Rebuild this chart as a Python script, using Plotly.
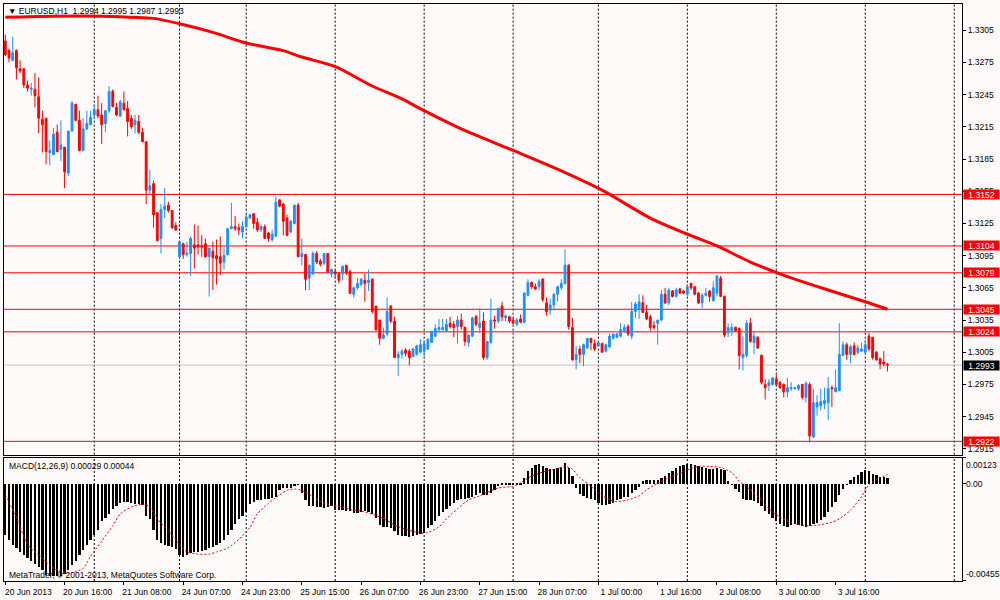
import plotly.graph_objects as go

# EURUSD H1, 20 Jun - 4 Jul 2013 (MetaTrader 4 screenshot), one value per bar
opens = [
    1.3295, 1.3286, 1.3277, 1.3286, 1.3269, 1.3269, 1.3254, 1.3250, 1.3250, 1.3243,
    1.3222, 1.3223, 1.3191, 1.3189, 1.3210, 1.3194, 1.3196, 1.3172, 1.3211, 1.3236,
    1.3221, 1.3193, 1.3213, 1.3217, 1.3226, 1.3231, 1.3226, 1.3218, 1.3230, 1.3248,
    1.3233, 1.3225, 1.3237, 1.3232, 1.3223, 1.3217, 1.3220, 1.3210, 1.3201, 1.3156,
    1.3162, 1.3135, 1.3111, 1.3138, 1.3142, 1.3137, 1.3123, 1.3094, 1.3106, 1.3096,
    1.3097, 1.3105, 1.3105, 1.3104, 1.3106, 1.3094, 1.3099, 1.3095, 1.3094, 1.3089,
    1.3096, 1.3120, 1.3122, 1.3121, 1.3117, 1.3122, 1.3130, 1.3134, 1.3126, 1.3119,
    1.3122, 1.3116, 1.3110, 1.3113, 1.3147, 1.3143, 1.3130, 1.3117, 1.3125, 1.3142,
    1.3094, 1.3096, 1.3074, 1.3078, 1.3097, 1.3090, 1.3088, 1.3097, 1.3078, 1.3080,
    1.3078, 1.3078, 1.3086, 1.3080, 1.3059, 1.3065, 1.3068, 1.3072, 1.3070, 1.3073,
    1.3048, 1.3035, 1.3018, 1.3022, 1.3048, 1.3034, 1.3000, 1.3003, 1.3007, 1.3006,
    1.3001, 1.3003, 1.3005, 1.3006, 1.3008, 1.3014, 1.3020, 1.3026, 1.3026, 1.3025,
    1.3032, 1.3031, 1.3029, 1.3035, 1.3028, 1.3014, 1.3020, 1.3038, 1.3028, 1.3034,
    1.3000, 1.3014, 1.3035, 1.3034, 1.3048, 1.3037, 1.3038, 1.3035, 1.3031, 1.3036,
    1.3033, 1.3058, 1.3070, 1.3066, 1.3066, 1.3073, 1.3051, 1.3044, 1.3049, 1.3059,
    1.3065, 1.3069, 1.3086, 1.3028, 1.2998, 1.3008, 1.3003, 1.3009, 1.3018, 1.3013,
    1.3011, 1.3013, 1.3006, 1.3010, 1.3018, 1.3019, 1.3020, 1.3025, 1.3029, 1.3020,
    1.3043, 1.3045, 1.3051, 1.3042, 1.3038, 1.3030, 1.3032, 1.3035, 1.3059, 1.3051,
    1.3062, 1.3057, 1.3064, 1.3062, 1.3059, 1.3069, 1.3066, 1.3060, 1.3051, 1.3058,
    1.3062, 1.3053, 1.3060, 1.3074, 1.3057, 1.3023, 1.3025, 1.3028, 1.3027, 1.3000,
    1.3002, 1.3032, 1.3014, 1.3019, 1.3002, 1.2975, 1.2974, 1.2975, 1.2980, 1.2977,
    1.2975, 1.2968, 1.2971, 1.2971, 1.2971, 1.2975, 1.2963, 1.2975, 1.2926, 1.2954,
    1.2955, 1.2957, 1.2958, 1.2972, 1.2968, 1.2969, 1.3002, 1.3012, 1.3003, 1.3011,
    1.3005, 1.3006, 1.3005, 1.3020, 1.3019, 1.3005, 1.2999, 1.2996, 1.2994,
]
highs = [
    1.3301, 1.3288, 1.3299, 1.3287, 1.3277, 1.3270, 1.3258, 1.3256, 1.3265, 1.3261,
    1.3230, 1.3223, 1.3202, 1.3214, 1.3217, 1.3221, 1.3196, 1.3211, 1.3239, 1.3236,
    1.3230, 1.3223, 1.3230, 1.3230, 1.3236, 1.3244, 1.3237, 1.3230, 1.3253, 1.3250,
    1.3237, 1.3240, 1.3248, 1.3239, 1.3226, 1.3226, 1.3226, 1.3214, 1.3201, 1.3175,
    1.3165, 1.3135, 1.3143, 1.3158, 1.3145, 1.3137, 1.3126, 1.3108, 1.3107, 1.3108,
    1.3113, 1.3124, 1.3123, 1.3114, 1.3111, 1.3102, 1.3108, 1.3110, 1.3113, 1.3103,
    1.3121, 1.3144, 1.3132, 1.3125, 1.3127, 1.3133, 1.3134, 1.3134, 1.3130, 1.3124,
    1.3124, 1.3117, 1.3119, 1.3150, 1.3147, 1.3144, 1.3133, 1.3128, 1.3142, 1.3144,
    1.3111, 1.3096, 1.3087, 1.3099, 1.3099, 1.3092, 1.3097, 1.3097, 1.3083, 1.3082,
    1.3080, 1.3086, 1.3086, 1.3082, 1.3066, 1.3074, 1.3074, 1.3078, 1.3082, 1.3074,
    1.3048, 1.3035, 1.3028, 1.3056, 1.3049, 1.3038, 1.3006, 1.3008, 1.3009, 1.3008,
    1.3009, 1.3012, 1.3017, 1.3015, 1.3018, 1.3025, 1.3031, 1.3036, 1.3036, 1.3036,
    1.3038, 1.3034, 1.3039, 1.3041, 1.3029, 1.3021, 1.3038, 1.3040, 1.3046, 1.3042,
    1.3015, 1.3055, 1.3039, 1.3046, 1.3052, 1.3040, 1.3039, 1.3037, 1.3037, 1.3040,
    1.3061, 1.3073, 1.3071, 1.3069, 1.3073, 1.3074, 1.3056, 1.3055, 1.3060, 1.3067,
    1.3073, 1.3101, 1.3087, 1.3037, 1.3011, 1.3011, 1.3013, 1.3018, 1.3018, 1.3017,
    1.3015, 1.3014, 1.3013, 1.3022, 1.3022, 1.3023, 1.3032, 1.3031, 1.3031, 1.3052,
    1.3052, 1.3059, 1.3058, 1.3049, 1.3040, 1.3034, 1.3035, 1.3063, 1.3065, 1.3065,
    1.3063, 1.3065, 1.3065, 1.3063, 1.3068, 1.3070, 1.3066, 1.3061, 1.3060, 1.3065,
    1.3063, 1.3071, 1.3077, 1.3076, 1.3058, 1.3032, 1.3032, 1.3029, 1.3028, 1.3020,
    1.3035, 1.3037, 1.3025, 1.3020, 1.3003, 1.2980, 1.2980, 1.2982, 1.2984, 1.2978,
    1.2976, 1.2981, 1.2977, 1.2973, 1.2975, 1.2975, 1.2978, 1.2977, 1.2971, 1.2965,
    1.2971, 1.2972, 1.2982, 1.2974, 1.2989, 1.3032, 1.3015, 1.3014, 1.3012, 1.3014,
    1.3012, 1.3014, 1.3016, 1.3023, 1.3019, 1.3006, 1.3000, 1.3006, 1.2995,
]
lows = [
    1.3281, 1.3275, 1.3276, 1.3259, 1.3265, 1.3251, 1.3248, 1.3244, 1.3233, 1.3209,
    1.3191, 1.3180, 1.3179, 1.3189, 1.3191, 1.3183, 1.3158, 1.3169, 1.3211, 1.3220,
    1.3192, 1.3192, 1.3212, 1.3217, 1.3222, 1.3223, 1.3199, 1.3210, 1.3228, 1.3233,
    1.3225, 1.3224, 1.3230, 1.3206, 1.3213, 1.3209, 1.3208, 1.3201, 1.3143, 1.3152,
    1.3121, 1.3108, 1.3097, 1.3130, 1.3135, 1.3120, 1.3118, 1.3093, 1.3092, 1.3094,
    1.3076, 1.3083, 1.3096, 1.3094, 1.3093, 1.3057, 1.3063, 1.3068, 1.3077, 1.3082,
    1.3095, 1.3120, 1.3118, 1.3114, 1.3111, 1.3121, 1.3129, 1.3120, 1.3117, 1.3117,
    1.3111, 1.3108, 1.3108, 1.3113, 1.3140, 1.3114, 1.3113, 1.3116, 1.3124, 1.3094,
    1.3086, 1.3063, 1.3063, 1.3077, 1.3087, 1.3085, 1.3086, 1.3079, 1.3075, 1.3074,
    1.3069, 1.3072, 1.3077, 1.3059, 1.3056, 1.3063, 1.3066, 1.3052, 1.3062, 1.3041,
    1.3025, 1.3012, 1.3017, 1.3020, 1.3032, 1.3000, 1.2983, 1.2999, 1.3001, 1.2993,
    1.3001, 1.3002, 1.3004, 1.3001, 1.3007, 1.3014, 1.3019, 1.3023, 1.3025, 1.3024,
    1.3027, 1.3019, 1.3013, 1.3026, 1.3011, 1.3010, 1.3019, 1.3029, 1.3023, 1.2998,
    1.2998, 1.3013, 1.3027, 1.3032, 1.3034, 1.3034, 1.3032, 1.3031, 1.3029, 1.3032,
    1.3032, 1.3057, 1.3064, 1.3063, 1.3063, 1.3052, 1.3039, 1.3040, 1.3044, 1.3052,
    1.3063, 1.3068, 1.3026, 1.2997, 1.2989, 1.2995, 1.2992, 1.3008, 1.3007, 1.3006,
    1.3010, 1.3005, 1.3005, 1.3009, 1.3017, 1.3018, 1.3019, 1.3023, 1.3020, 1.3017,
    1.3037, 1.3036, 1.3042, 1.3035, 1.3025, 1.3026, 1.3012, 1.3034, 1.3050, 1.3049,
    1.3056, 1.3056, 1.3060, 1.3059, 1.3057, 1.3063, 1.3058, 1.3050, 1.3046, 1.3057,
    1.3052, 1.3052, 1.3057, 1.3057, 1.3019, 1.3019, 1.3020, 1.3024, 1.2989, 1.2988,
    1.3000, 1.3014, 1.3003, 1.3008, 1.2975, 1.2961, 1.2969, 1.2974, 1.2974, 1.2971,
    1.2963, 1.2963, 1.2969, 1.2970, 1.2969, 1.2961, 1.2958, 1.2921, 1.2925, 1.2946,
    1.2951, 1.2952, 1.2942, 1.2954, 1.2968, 1.2969, 1.3002, 1.2998, 1.2995, 1.3002,
    1.3003, 1.3005, 1.3003, 1.3006, 1.2998, 1.2997, 1.2989, 1.2992, 1.2987,
]
closes = [
    1.3282, 1.3279, 1.3284, 1.3270, 1.3267, 1.3254, 1.3251, 1.3251, 1.3244, 1.3223,
    1.3217, 1.3192, 1.3193, 1.3208, 1.3192, 1.3198, 1.3173, 1.3211, 1.3237, 1.3221,
    1.3193, 1.3213, 1.3218, 1.3224, 1.3231, 1.3225, 1.3217, 1.3230, 1.3248, 1.3234,
    1.3226, 1.3238, 1.3231, 1.3220, 1.3215, 1.3221, 1.3210, 1.3201, 1.3156, 1.3160,
    1.3133, 1.3109, 1.3138, 1.3141, 1.3137, 1.3121, 1.3119, 1.3108, 1.3096, 1.3097,
    1.3111, 1.3102, 1.3103, 1.3103, 1.3094, 1.3102, 1.3093, 1.3092, 1.3088, 1.3095,
    1.3120, 1.3122, 1.3120, 1.3119, 1.3122, 1.3131, 1.3133, 1.3125, 1.3119, 1.3122,
    1.3111, 1.3111, 1.3115, 1.3145, 1.3141, 1.3127, 1.3114, 1.3127, 1.3142, 1.3094,
    1.3097, 1.3073, 1.3086, 1.3097, 1.3089, 1.3087, 1.3097, 1.3080, 1.3082, 1.3078,
    1.3072, 1.3085, 1.3079, 1.3060, 1.3065, 1.3069, 1.3073, 1.3069, 1.3072, 1.3043,
    1.3026, 1.3018, 1.3021, 1.3043, 1.3034, 1.3000, 1.3003, 1.3006, 1.3004, 1.3000,
    1.3008, 1.3011, 1.3012, 1.3013, 1.3017, 1.3024, 1.3027, 1.3028, 1.3028, 1.3031,
    1.3029, 1.3028, 1.3035, 1.3029, 1.3015, 1.3021, 1.3037, 1.3031, 1.3032, 1.3000,
    1.3015, 1.3035, 1.3034, 1.3046, 1.3038, 1.3039, 1.3034, 1.3032, 1.3035, 1.3033,
    1.3060, 1.3070, 1.3066, 1.3064, 1.3071, 1.3054, 1.3043, 1.3049, 1.3059, 1.3066,
    1.3069, 1.3086, 1.3029, 1.2998, 1.3003, 1.3003, 1.3012, 1.3018, 1.3014, 1.3008,
    1.3014, 1.3005, 1.3012, 1.3020, 1.3022, 1.3022, 1.3026, 1.3028, 1.3022, 1.3043,
    1.3050, 1.3052, 1.3042, 1.3036, 1.3028, 1.3028, 1.3035, 1.3059, 1.3051, 1.3063,
    1.3057, 1.3063, 1.3060, 1.3060, 1.3066, 1.3065, 1.3059, 1.3051, 1.3058, 1.3060,
    1.3057, 1.3065, 1.3076, 1.3057, 1.3021, 1.3028, 1.3028, 1.3025, 1.3002, 1.3003,
    1.3032, 1.3015, 1.3020, 1.3009, 1.2977, 1.2972, 1.2977, 1.2981, 1.2975, 1.2972,
    1.2968, 1.2972, 1.2972, 1.2972, 1.2974, 1.2963, 1.2976, 1.2927, 1.2958, 1.2958,
    1.2959, 1.2960, 1.2971, 1.2971, 1.2972, 1.3003, 1.3012, 1.3003, 1.3010, 1.3003,
    1.3009, 1.3008, 1.3012, 1.3008, 1.3000, 1.2998, 1.2994, 1.2994, 1.2993,
]

# moving average (thick red line), read at a few bars
ma_bars = [0, 13, 26, 34, 40, 47, 56, 65, 75, 80, 89, 99, 107, 113, 123, 137,
           150, 161, 174, 184, 192, 201, 209, 214, 222, 232, 238]
ma_values = [1.3317, 1.3318, 1.3318, 1.3317, 1.3316, 1.3311, 1.3303, 1.3293, 1.3286,
             1.3280, 1.3271, 1.3253, 1.3241, 1.3230, 1.3213, 1.3193, 1.3174, 1.3156,
             1.3130, 1.3115, 1.3104, 1.3089, 1.3078, 1.3072, 1.3063, 1.3052, 1.3045]

# horizontal lines and the bid line
levels = [1.3152, 1.3104, 1.3079, 1.3045, 1.3024, 1.2922]
bid = 1.2993
price_ticks = [1.2915, 1.2945, 1.2975, 1.3005, 1.3035, 1.3065, 1.3095, 1.3125,
               1.3155, 1.3185, 1.3215, 1.3245, 1.3275, 1.3305]

# MACD(12,26,9) main line (histogram) per bar and signal line (sampled)
macd_hist = [
    -0.00236, -0.00260, -0.00284, -0.00300, -0.00316, -0.00332, -0.00345, -0.00361, -0.00372, -0.00388,
    -0.00404, -0.00425, -0.00432, -0.00432, -0.00432, -0.00432, -0.00421, -0.00404, -0.00380, -0.00361,
    -0.00332, -0.00308, -0.00284, -0.00260, -0.00236, -0.00212, -0.00172, -0.00156, -0.00140, -0.00116,
    -0.00100, -0.00088, -0.00083, -0.00083, -0.00088, -0.00091, -0.00091, -0.00095, -0.00148, -0.00164,
    -0.00212, -0.00260, -0.00276, -0.00284, -0.00287, -0.00292, -0.00303, -0.00332, -0.00340, -0.00332,
    -0.00324, -0.00319, -0.00316, -0.00313, -0.00308, -0.00300, -0.00292, -0.00284, -0.00276, -0.00260,
    -0.00236, -0.00212, -0.00188, -0.00164, -0.00148, -0.00132, -0.00091, -0.00083, -0.00075, -0.00072,
    -0.00071, -0.00069, -0.00066, -0.00059, -0.00027, -0.00019, -0.00016, -0.00016, -0.00008, -0.00003,
    -0.00043, -0.00075, -0.00100, -0.00104, -0.00108, -0.00108, -0.00111, -0.00108, -0.00104, -0.00120,
    -0.00120, -0.00120, -0.00124, -0.00127, -0.00136, -0.00133, -0.00132, -0.00127, -0.00132, -0.00140,
    -0.00156, -0.00191, -0.00201, -0.00201, -0.00207, -0.00220, -0.00236, -0.00241, -0.00244, -0.00247,
    -0.00241, -0.00236, -0.00231, -0.00228, -0.00207, -0.00193, -0.00172, -0.00148, -0.00132, -0.00116,
    -0.00104, -0.00088, -0.00075, -0.00067, -0.00067, -0.00064, -0.00059, -0.00048, -0.00040, -0.00051,
    -0.00051, -0.00040, -0.00027, -0.00008, 0.00002, 0.00005, 0.00008, 0.00008, 0.00008, 0.00008,
    0.00029, 0.00061, 0.00077, 0.00088, 0.00093, 0.00085, 0.00077, 0.00072, 0.00072, 0.00077,
    0.00082, 0.00101, 0.00077, 0.00037, -0.00019, -0.00047, -0.00056, -0.00063, -0.00067, -0.00075,
    -0.00088, -0.00095, -0.00095, -0.00091, -0.00088, -0.00075, -0.00067, -0.00059, -0.00059, -0.00043,
    -0.00027, -0.00011, 0.00013, 0.00021, 0.00018, 0.00018, 0.00018, 0.00029, 0.00040, 0.00053,
    0.00061, 0.00077, 0.00085, 0.00088, 0.00093, 0.00093, 0.00088, 0.00085, 0.00082, 0.00077,
    0.00072, 0.00072, 0.00077, 0.00072, 0.00069, 0.00013, -0.00003, -0.00024, -0.00035, -0.00067,
    -0.00075, -0.00075, -0.00079, -0.00088, -0.00100, -0.00124, -0.00140, -0.00156, -0.00172, -0.00188,
    -0.00196, -0.00201, -0.00191, -0.00188, -0.00191, -0.00196, -0.00201, -0.00196, -0.00188, -0.00180,
    -0.00169, -0.00152, -0.00132, -0.00108, -0.00085, -0.00051, -0.00024, -0.00003, 0.00021, 0.00034,
    0.00045, 0.00056, 0.00066, 0.00061, 0.00050, 0.00042, 0.00035, 0.00032, 0.00029,
]
signal_bars = [0, 3, 6, 10, 13, 16, 18, 21, 23, 26, 29, 31, 34, 37, 39, 41, 44, 47, 49, 52,
               55, 57, 60, 63, 66, 68, 71, 74, 76, 78, 80, 83, 85, 88, 91, 93, 96, 100, 103, 106,
               110, 112, 114, 117, 119, 122, 125, 128, 130, 133, 137, 139, 142, 146, 149, 151,
               153, 155, 158, 160, 163, 165, 168, 171, 173, 176, 179, 182, 185, 187, 190, 193,
               196, 198, 201, 204, 206, 209, 212, 214, 217, 220, 223, 225, 228, 231, 233, 236, 238]
signal_values = [
    -0.00051, -0.00156, -0.00284, -0.00348, -0.00396, -0.00416, -0.00416, -0.00396, -0.00340, -0.00268,
    -0.00196, -0.00140, -0.00108, -0.00095, -0.00108, -0.00164, -0.00220, -0.00284, -0.00319, -0.00329,
    -0.00329, -0.00319, -0.00300, -0.00260, -0.00204, -0.00140, -0.00091, -0.00051, -0.00030, -0.00024,
    -0.00030, -0.00059, -0.00083, -0.00100, -0.00108, -0.00120, -0.00127, -0.00148, -0.00172, -0.00201,
    -0.00223, -0.00231, -0.00228, -0.00201, -0.00164, -0.00116, -0.00075, -0.00056, -0.00040, -0.00019,
    -0.00011, 0.00005, 0.00037, 0.00061, 0.00072, 0.00082, 0.00069, 0.00029, -0.00011, -0.00043,
    -0.00075, -0.00083, -0.00075, -0.00056, -0.00027, 0.00003, 0.00029, 0.00050, 0.00072, 0.00082,
    0.00082, 0.00077, 0.00053, 0.00013, -0.00027, -0.00075, -0.00116, -0.00156, -0.00180, -0.00191,
    -0.00196, -0.00191, -0.00180, -0.00164, -0.00124, -0.00059, -0.00003, 0.00029, 0.00044,
]
macd_ticks = [0.00123, 0.0, -0.00455]
macd_tick_labels = ["0.00123", "0.00", "-0.00455"]

# time axis: a label every 16 bars, dotted grid at the first bar of each day
time_label_bars = [0, 16, 32, 48, 64, 80, 96, 112, 128, 144, 160, 176, 192, 208, 224]
time_labels = ["20 Jun 2013", "20 Jun 16:00", "21 Jun 08:00", "24 Jun 07:00", "24 Jun 23:00",
               "25 Jun 15:00", "26 Jun 07:00", "26 Jun 23:00", "27 Jun 15:00", "28 Jun 07:00",
               "1 Jul 00:00", "1 Jul 16:00", "2 Jul 08:00", "3 Jul 00:00", "3 Jul 16:00"]
day_start_bars = [24, 47, 65, 89, 113, 137, 160, 184, 208, 232, 256]

bars = list(range(len(closes)))

BG = "#FFFAFA"
FONT = "Liberation Sans"
FS = 8.5
PRICE_DOM = [0.219, 1.0]
MACD_DOM = [0.0, 0.2138]

fig = go.Figure()

# candles
fig.add_trace(
    go.Candlestick(
        x=bars, open=opens, high=highs, low=lows, close=closes,
        increasing=dict(line=dict(color="#1E90FF", width=1), fillcolor="#1E90FF"),
        decreasing=dict(line=dict(color="#FF0000", width=1), fillcolor="#FF0000"),
        whiskerwidth=0, showlegend=False, hoverinfo="skip",
        xaxis="x", yaxis="y",
    )
)

# moving average
fig.add_trace(
    go.Scatter(x=ma_bars, y=ma_values, mode="lines",
               line=dict(color="#FF0000", width=3, shape="spline", smoothing=0.8),
               showlegend=False, hoverinfo="skip", xaxis="x", yaxis="y")
)

# MACD histogram + signal
fig.add_trace(
    go.Bar(x=bars, y=macd_hist, width=0.62, marker=dict(color="#000000", line=dict(width=0)),
           showlegend=False, hoverinfo="skip", xaxis="x2", yaxis="y2")
)
fig.add_trace(
    go.Scatter(x=signal_bars, y=signal_values, mode="lines",
               line=dict(color="#FF0000", width=1, dash="2px,2px", shape="spline", smoothing=0.6),
               showlegend=False, hoverinfo="skip", xaxis="x2", yaxis="y2")
)

shapes = []
# dotted day separators in both panes
for b in day_start_bars:
    for yr in ["y domain", "y2 domain"]:
        shapes.append(dict(type="line", xref="x", x0=b, x1=b, yref=yr, y0=0, y1=1,
                           line=dict(color="#000000", width=1, dash="2px,2px"), layer="below"))
# horizontal levels
for lv in levels:
    shapes.append(dict(type="line", xref="x domain", x0=0, x1=1, yref="y", y0=lv, y1=lv,
                       line=dict(color="#FF0000", width=1), layer="below"))
shapes.append(dict(type="line", xref="x domain", x0=0, x1=1, yref="y", y0=bid, y1=bid,
                   line=dict(color="#C0C0C0", width=1), layer="below"))

annotations = []
# price tags on the right axis
for lv in levels:
    annotations.append(dict(xref="paper", x=1, xanchor="left", xshift=1, yref="y", y=lv,
                            text=f"{lv:.4f}", showarrow=False, bgcolor="#FF0000",
                            width=35, height=9, borderpad=0,
                            font=dict(family=FONT, size=FS, color="#FFFFFF")))
annotations.append(dict(xref="paper", x=1, xanchor="left", xshift=1, yref="y", y=bid,
                        text=f"{bid:.4f}", showarrow=False, bgcolor="#000000",
                        width=35, height=9, borderpad=0,
                        font=dict(family=FONT, size=FS, color="#FFFFFF")))
# MACD scale labels
anchors = ["top", "middle", "bottom"]
for v, t, a in zip(macd_ticks, macd_tick_labels, anchors):
    annotations.append(dict(xref="paper", x=1, xanchor="left", xshift=2, yref="y2", y=v,
                            yanchor=a, text=t, showarrow=False,
                            font=dict(family=FONT, size=FS, color="#000000")))
# titles
annotations.append(dict(xref="paper", x=0.002, xanchor="left", yref="paper", y=0.988,
                        yanchor="middle", showarrow=False,
                        text="▼ EURUSD,H1\u00a0 1.2994 1.2995 1.2987 1.2993",
                        font=dict(family=FONT, size=FS, color="#000000")))
annotations.append(dict(xref="paper", x=0.003, xanchor="left", yref="paper", y=0.2,
                        yanchor="middle", showarrow=False,
                        text="MACD(12,26,9) 0.00029 0.00044",
                        font=dict(family=FONT, size=FS, color="#000000")))
annotations.append(dict(xref="paper", x=0.003, xanchor="left", yref="paper", y=0.0103,
                        yanchor="middle", showarrow=False,
                        text="MetaTrader, © 2001-2013, MetaQuotes Software Corp.",
                        font=dict(family=FONT, size=FS, color="#000000")))

x_range = [-0.35, 258.1]
axis_font = dict(family=FONT, size=FS, color="#000000")

fig.update_layout(
    width=1000,
    height=600,
    autosize=False,
    margin=dict(l=3, r=38, t=3, b=17, pad=0),
    paper_bgcolor=BG,
    plot_bgcolor=BG,
    bargap=0,
    showlegend=False,
    shapes=shapes,
    annotations=annotations,
    xaxis=dict(
        domain=[0, 1], range=x_range, anchor="y", rangeslider=dict(visible=False),
        showgrid=False, zeroline=False, showticklabels=False, ticks="",
        showline=True, mirror=True, linecolor="#000000", linewidth=1,
    ),
    yaxis=dict(
        domain=PRICE_DOM, range=[1.29096, 1.33294], side="right", anchor="x",
        tickvals=price_ticks, tickformat=".4f", ticks="outside", ticklen=3,
        tickcolor="#000000", tickfont=axis_font, showgrid=False, zeroline=False,
        showline=True, mirror=True, linecolor="#000000", linewidth=1,
    ),
    xaxis2=dict(
        domain=[0, 1], range=x_range, anchor="y2", matches="x",
        tickvals=time_label_bars, ticktext=time_labels, ticks="outside", ticklen=3,
        tickcolor="#000000", tickfont=axis_font, ticklabelshift=23,
        showgrid=False, zeroline=False,
        showline=True, mirror=True, linecolor="#000000", linewidth=1,
    ),
    yaxis2=dict(
        domain=MACD_DOM, range=[-0.00455, 0.00123], side="right", anchor="x2",
        tickvals=macd_ticks, showticklabels=False, ticks="outside", ticklen=3,
        tickcolor="#000000", showgrid=False, zeroline=False,
        showline=True, mirror=True, linecolor="#000000", linewidth=1,
    ),
)

fig.write_html("out.html", config={"displayModeBar": False},
               post_script="document.body.style.margin='0';")
